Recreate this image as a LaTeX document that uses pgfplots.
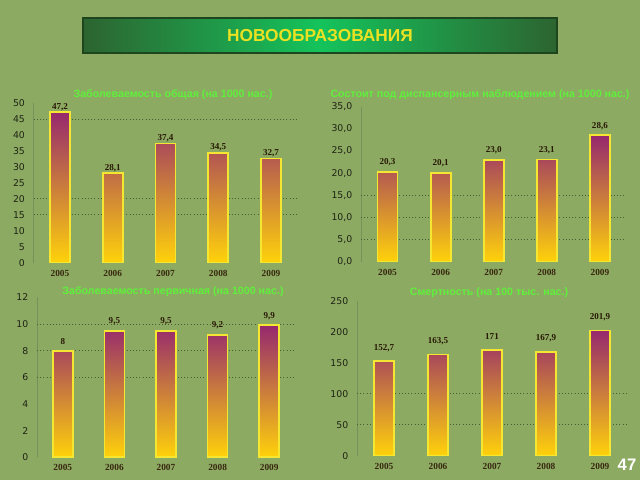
\documentclass[border=0pt]{standalone}
\usepackage{pgfplots}
\pgfplotsset{compat=1.18}
\usepackage{fontspec}
\setmainfont{Liberation Sans}
\newfontfamily\tickfont{DejaVu Sans}
\newfontfamily\serfont{Liberation Serif}
\definecolor{bg}{RGB}{141,170,99}
\definecolor{hdDark}{RGB}{45,100,48}
\definecolor{hdLight}{RGB}{20,195,92}
\definecolor{hdBorder}{RGB}{30,70,30}
\definecolor{hdText}{RGB}{235,225,35}
\definecolor{ttl}{RGB}{95,240,60}
\definecolor{barTop}{RGB}{150,40,110}
\definecolor{barMid}{RGB}{205,120,80}
\definecolor{barBot}{RGB}{255,210,10}
\definecolor{barBorder}{RGB}{245,230,50}
\definecolor{xlab}{RGB}{55,40,15}
\definecolor{ylab}{RGB}{30,35,20}
\definecolor{vlab}{RGB}{40,25,5}
\definecolor{gridc}{RGB}{70,95,50}
\definecolor{axc}{RGB}{120,145,90}
\pgfplotsset{
 mybar/.style={
  scale only axis, anchor=south west,
  ybar, bar width=15pt, xmin=-0.5, xmax=4.5, ymin=0,
  xtick={0,1,2,3,4}, xticklabels={2005,2006,2007,2008,2009},
  axis x line*=bottom, axis y line*=left,
  x axis line style={draw=none}, y axis line style={draw=axc, line width=0.5pt, -},
  major tick length=0pt,
  x tick label style={font=\fontsize{7}{8}\selectfont\serfont\bfseries, text=xlab, yshift=-2pt},
  y tick label style={font=\fontsize{7}{8}\selectfont\tickfont, text=ylab, xshift=-3pt},
  /pgf/number format/assume math mode=true,
  nodes near coords, point meta=explicit symbolic,
  every node near coord/.append style={font=\fontsize{6.8}{8}\selectfont\serfont\bfseries, text=vlab, anchor=center},
  grid style={dotted, gridc, line width=0.7pt},
  extra y tick labels={}, extra y tick style={grid=major},
 },
 barstyle/.style={draw=barBorder, line width=1.3pt, top color=barTop, middle color=barMid, bottom color=barBot},
}
\begin{document}
\begin{tikzpicture}
\fill[bg] (0,0) rectangle (480pt,360pt);
\useasboundingbox (0,0) rectangle (480pt,360pt);
% header
\shadedraw[left color=hdDark, right color=hdDark, middle color=hdLight, draw=hdBorder, line width=1pt] (62.25pt,320.25pt) rectangle (417.75pt,346.5pt);
\node[text=hdText, font=\fontsize{13}{15}\selectfont\bfseries] at (240pt,333pt) {НОВООБРАЗОВАНИЯ};
% titles
\node[text=ttl, font=\fontsize{8}{9}\selectfont\bfseries] at (129.75pt,288.75pt) {Заболеваемость общая (на 1000 нас.)};
\node[text=ttl, font=\fontsize{8}{9}\selectfont\bfseries] at (360pt,288.75pt) {Состоит под диспансерным наблюдением (на 1000 нас.)};
\node[text=ttl, font=\fontsize{8}{9}\selectfont\bfseries] at (129.75pt,141pt) {Заболеваемость первичная (на 1000 нас.)};
\node[text=ttl, font=\fontsize{8}{9}\selectfont\bfseries] at (366.75pt,140.25pt) {Смертность (на 100 тыс. нас.)};
\node[text=white, font=\fontsize{12.5}{14}\selectfont\bfseries] at (470.25pt,11.25pt) {47};
% chart 1
\begin{axis}[mybar, at={(25.2pt,162.98pt)}, width=197.85pt, height=119.55pt,
  ymax=50, ytick={0,5,...,50}, extra y ticks={45,20,15},
  every node near coord/.append style={yshift=4pt}]
\addplot[barstyle] coordinates {(0,47.2)[47,2] (1,28.1)[28,1] (2,37.4)[37,4] (3,34.5)[34,5] (4,32.7)[32,7]};
\end{axis}
% chart 2
\begin{axis}[mybar, at={(270.75pt,163.7pt)}, width=199.1pt, height=116.25pt,
  ymax=35, ytick={0,5,...,35}, extra y ticks={15,10,5},
  yticklabel style={/pgf/number format/.cd, fixed, fixed zerofill, precision=1, use comma},
  every node near coord/.append style={yshift=7pt}]
\addplot[barstyle] coordinates {(0,20.3)[20,3] (1,20.1)[20,1] (2,23.0)[23,0] (3,23.1)[23,1] (4,28.6)[28,6]};
\end{axis}
% chart 3
\begin{axis}[mybar, at={(27.75pt,16.98pt)}, width=193.5pt, height=120pt,
  ymax=12, ytick={0,2,...,12}, extra y ticks={10,8,6},
  every node near coord/.append style={yshift=7pt}]
\addplot[barstyle] coordinates {(0,8)[8] (1,9.5)[9,5] (2,9.5)[9,5] (3,9.2)[9,2] (4,9.9)[9,9]};
\end{axis}
% chart 4
\begin{axis}[mybar, at={(267.75pt,18.2pt)}, width=202.5pt, height=116.25pt,
  ymax=250, ytick={0,50,...,250}, extra y ticks={100,50},
  every node near coord/.append style={yshift=10pt}]
\addplot[barstyle] coordinates {(0,152.7)[152,7] (1,163.5)[163,5] (2,171)[171] (3,167.9)[167,9] (4,201.9)[201,9]};
\end{axis}
\end{tikzpicture}
\end{document}
